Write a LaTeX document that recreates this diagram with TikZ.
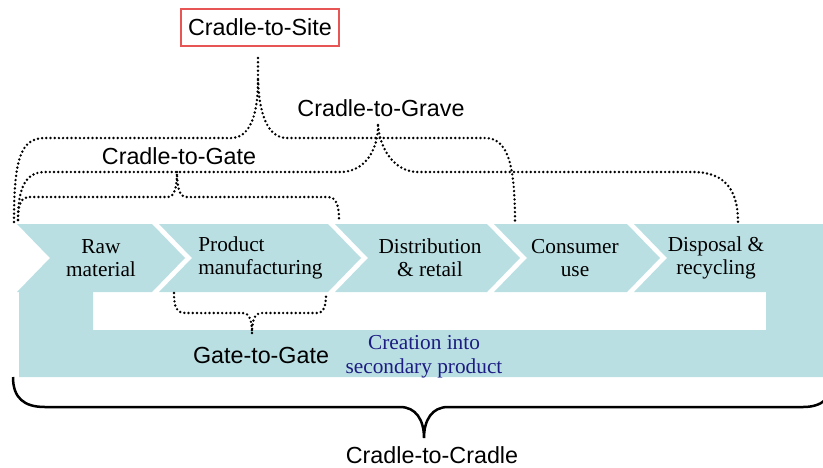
\documentclass[tikz,border=0pt]{standalone}
\usepackage{fontspec}
\setmainfont{Liberation Serif}
\setsansfont{Liberation Sans}
\usetikzlibrary{positioning}
\definecolor{flowteal}{RGB}{185,223,227}
\definecolor{secnavy}{RGB}{28,28,130}
\definecolor{sitered}{RGB}{232,85,85}
\tikzset{
  stage/.style={font=\fontsize{10.65}{11.5}\selectfont, align=center, inner sep=0pt},
  scopelabel/.style={font=\sffamily\fontsize{11.65}{14}\selectfont, inner sep=0pt},
  dotbrace/.style={line width=1.35pt, line cap=round, dash pattern=on 0pt off 2.1pt},
}
\begin{document}
\begin{tikzpicture}[x=0.5pt,y=-0.5pt]
  \useasboundingbox (0,0) rectangle (823,467);

  % chevrons of the life cycle
  \foreach \l/\r in {17/152,159/328,335/487,494/627}
  \fill [flowteal] (\l,224) -- (\r,224) -- (\r+33,258) -- (\r,292) -- (\l,292) -- (\l+33,258) -- cycle;
  % last chevron and the return loop
  \fill [flowteal] (634,224) -- (823,224) -- (823,377) -- (19,377) -- (19,292) -- (93,292)
    -- (93,330) -- (766,330) -- (766,292) -- (634,292) -- (667,258) -- cycle;

  \node [stage] (raw) at (101,258) {Raw\\material};
  \node [stage,align=left,anchor=west] (manuf) at (198,258) {Product\\manufacturing};
  \node [stage] (distr) at (430,258) {Distribution\\\& retail};
  \node [stage] (cons) at (575,258) {Consumer\\use};
  \node [stage] (disp) at (716,258) {Disposal \&\\recycling};
  \node [stage,text=secnavy,font=\fontsize{10.65}{12}\selectfont] (second) at (424,357) {Creation into\\secondary product};

  % scope labels
  \node [scopelabel,draw=sitered,line width=0.75pt,minimum width=79pt,minimum height=18.5pt] (site) at (260,27.5) {Cradle-to-Site};
  \node [scopelabel] (grave) at (381,108) {Cradle-to-Grave};
  \node [scopelabel] (gate) at (179,156) {Cradle-to-Gate};
  \node [scopelabel] (g2g) at (261,355) {Gate-to-Gate};
  \node [scopelabel] (c2c) at (432,455) {Cradle-to-Cradle};

  % braces
  \draw [dotbrace] (14,222) .. controls (14,160) and (20,138) .. (45,138) -- (233,138)
    .. controls (252,136) and (258,110) .. (258,80) -- (258,55);
  \draw [dotbrace] (258,80) .. controls (259,110) and (266,138) .. (287,138) -- (485,138)
    .. controls (508,138) and (515,165) .. (515,222);

  \draw [dotbrace] (18,220) .. controls (18,185) and (27,172) .. (45,172) -- (340,172)
    .. controls (365,172) and (378,150) .. (378,125);
  \draw [dotbrace] (378,125) .. controls (380,150) and (395,172) .. (418,172) -- (693,172)
    .. controls (725,172) and (738,190) .. (738,222);

  \draw [dotbrace] (18,220) .. controls (18,204) and (21,197) .. (30,197) -- (168,197)
    .. controls (175,197) and (177,185) .. (177,172);
  \draw [dotbrace] (177,172) .. controls (177,185) and (179,197) .. (186,197) -- (328,197)
    .. controls (336,197) and (339,205) .. (339,220);

  \draw [dotbrace] (174,293) .. controls (174,308) and (177,313) .. (186,313) -- (243,313)
    .. controls (249,313) and (252,320) .. (252,333);
  \draw [dotbrace] (252,333) .. controls (252,320) and (255,313) .. (261,313) -- (317,313)
    .. controls (324,313) and (326,306) .. (326,293);

  \draw [line width=1.25pt] (13,377) .. controls (13,398) and (24,407) .. (45,407) -- (400,407)
    .. controls (416,407) and (424,420) .. (424,438)
    .. controls (424,420) and (432,407) .. (448,407) -- (803,407)
    .. controls (822,407) and (833,398) .. (835,377);
\end{tikzpicture}
\end{document}
